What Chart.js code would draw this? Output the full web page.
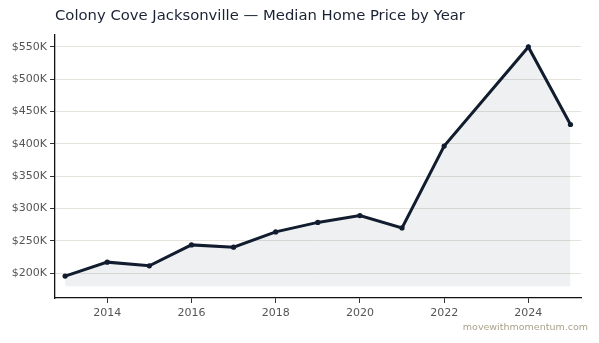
<!DOCTYPE html>
<html>
<head>
<meta charset="utf-8">
<script src="https://cdn.jsdelivr.net/npm/chart.js@4/dist/chart.umd.min.js"></script>
<style>
  html, body { margin: 0; padding: 0; background: #fff; }
  #wrap { width: 599px; height: 343px; position: relative; }
</style>
</head>
<body>
<div id="wrap"><canvas id="priceChart"></canvas></div>
<script>
"use strict";

const years = [2013, 2014, 2015, 2016, 2017, 2018, 2019, 2020, 2021, 2022, 2024, 2025];
const medianPrice = [195400, 217000, 211300, 243700, 240200, 263800, 278500, 289000, 270000, 396600, 550000, 430000];
const yearTicks = [2014, 2016, 2018, 2020, 2022, 2024];
const priceTicks = [200000, 250000, 300000, 350000, 400000, 450000, 500000, 550000];
const fillBase = 179600;

const titleText = "Colony Cove Jacksonville \u2014 Median Home Price by Year";
const creditText = "movewithmomentum.com";

// title + credit line drawn on the canvas
const textPlugin = {
  id: "textPlugin",
  afterDraw(chart) {
    const ctx = chart.ctx;
    ctx.save();
    ctx.fillStyle = "#1a2233";
    ctx.font = "14.8px 'DejaVu Sans'";
    ctx.textBaseline = "middle";
    ctx.textAlign = "left";
    ctx.fillText(titleText, chart.chartArea.left, 16);
    ctx.fillStyle = "#aaa28c";
    ctx.font = "9.5px 'DejaVu Sans'";
    ctx.textAlign = "right";
    ctx.fillText(creditText, 588, 328);
    ctx.restore();
  }
};

const points = years.map((y, i) => ({x: y, y: medianPrice[i]}));

new Chart(document.getElementById("priceChart").getContext("2d"), {
  type: "line",
  data: {
    datasets: [
      {
        label: "Median Home Price",
        data: points,
        borderColor: "#111c2e",
        backgroundColor: "rgba(15, 27, 45, 0.065)",
        borderWidth: 3,
        pointRadius: 2.6,
        pointBackgroundColor: "#111c2e",
        pointBorderWidth: 0,
        tension: 0,
        fill: {value: fillBase},
      },
    ],
  },
  options: {
    responsive: true,
    maintainAspectRatio: false,
    animation: false,
    layout: {padding: {top: 35, right: 18, bottom: 25, left: 0}},
    plugins: {
      legend: {display: false},
      title: {display: false},
      tooltip: {enabled: false},
    },
    scales: {
      x: {
        type: "linear",
        min: 2012.76,
        max: 2025.25,
        afterFit(scale) { scale.height = 20; },
        afterBuildTicks(scale) { scale.ticks = yearTicks.map(v => ({value: v})); },
        grid: {drawOnChartArea: false, tickLength: 5, tickColor: "#333"},
        border: {color: "#111", width: 1.3},
        ticks: {
          color: "#555",
          font: {family: "DejaVu Sans", size: 11},
          padding: 4,
          maxRotation: 0,
          callback: v => String(v),
        },
      },
      y: {
        min: 161500,
        max: 568500,
        afterFit(scale) { scale.width = 55; },
        afterBuildTicks(scale) { scale.ticks = priceTicks.map(v => ({value: v})); },
        grid: {color: "#e4e4dd", lineWidth: 1, tickLength: 5, tickColor: "#333"},
        border: {color: "#111", width: 1.3},
        ticks: {
          color: "#555",
          font: {family: "DejaVu Sans", size: 11},
          padding: 3,
          callback: v => "$" + (v / 1000) + "K",
        },
      },
    },
  },
  plugins: [textPlugin],
});
</script>
</body>
</html>
